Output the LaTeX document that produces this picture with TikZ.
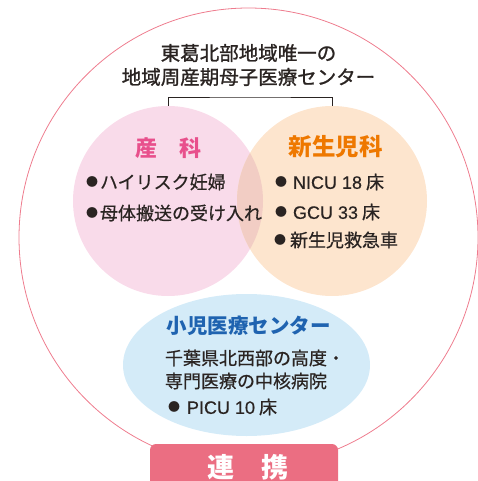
\documentclass[tikz,border=0pt]{standalone}
\usepackage{fontspec}
\newfontfamily\jp{Noto Sans CJK JP}
\newfontfamily\jpt[FakeBold=1.2]{Noto Sans CJK JP}
\newfontfamily\jpb[FakeBold=0.6]{Noto Sans CJK JP}
\newfontfamily\lat[FakeBold=0.5]{Liberation Sans}
\usetikzlibrary{shapes.geometric}
\definecolor{ringc}{HTML}{EE7C8E}
\definecolor{pinkf}{HTML}{F9DBEA}
\definecolor{orgf}{HTML}{FDE5CE}
\definecolor{ovlf}{HTML}{F2CDC4}
\definecolor{bluef}{HTML}{D4EBF8}
\definecolor{renkeif}{HTML}{EB6E82}
\definecolor{sankac}{HTML}{E8508C}
\definecolor{shinc}{HTML}{EE7800}
\definecolor{bluec}{HTML}{1F63B0}
\definecolor{txt}{HTML}{2A2422}
\begin{document}
\begin{tikzpicture}[x=1pt,y=-1pt,
  every node/.style={inner sep=0pt,outer sep=0pt},
  titletext/.style={font=\jpt\fontsize{19.5}{19.5}\selectfont,text=txt},
  headtext/.style={font=\jp\bfseries\fontsize{#1}{#1}\selectfont},
  bodytext/.style={font=\jpb\fontsize{18}{18}\selectfont,text=txt,anchor=west},
  dotmark/.style={font=\jp\fontsize{12}{12}\selectfont,text=txt},
  bubble/.style={circle,minimum size=190pt}]
\useasboundingbox (0,0) rectangle (478,481);
% circles
\node[bubble,fill=pinkf] (sanka) at (168,201) {};
\node[bubble,fill=orgf] (shin) at (332,201) {};
\begin{scope}
  \clip (168,201) circle (95);
  \fill[ovlf] (332,201) circle (95);
\end{scope}
\node[ellipse,fill=bluef,minimum width=247pt,minimum height=142pt] (kids) at (246.5,365) {};
\node[circle,draw=ringc,line width=0.8pt,minimum size=459pt] (ring) at (248.5,237.5) {};
% bracket
\coordinate (brk) at (250,97);
\draw[txt,line width=0.8pt] (sanka.north) |- (brk) -| (shin.north);
% title
\node[titletext] (t1) at (248.5,53) {東葛北部地域唯一の};
\node[titletext] (t2) at (248.5,77) {地域周産期母子医療センター};
% sanka
\node[headtext=22,text=sankac] (sh) at (168.5,148) {産　科};
\node[dotmark] (sd1) at (92,182) {●};
\node[bodytext] (s1) at (100,182) {ハイリスク妊婦};
\node[dotmark] (sd2) at (92,213) {●};
\node[bodytext] (s2) at (100,213) {母体搬送の受け入れ};
% shinseiji
\node[headtext=23.5,text=shinc] (nh) at (335.5,147) {新生児科};
\node[dotmark] (nd1) at (281,182) {●};
\node[bodytext] (n1) at (293,182) {{\lat NICU 18} 床};
\node[dotmark] (nd2) at (281,212) {●};
\node[bodytext] (n2) at (293,212) {{\lat GCU 33} 床};
\node[dotmark] (nd3) at (280,240) {●};
\node[bodytext] (n3) at (290,240) {新生児救急車};
% kids
\node[headtext=20.5,text=bluec] (kh) at (248.5,326) {小児医療センター};
\node[bodytext] (k1) at (165,358) {千葉県北西部の高度・};
\node[bodytext] (k2) at (165,381) {専門医療の中核病院};
\node[dotmark] (kd) at (174,407) {●};
\node[bodytext] (k3) at (187,407) {{\lat PICU 10} 床};
% renkei
\node[rectangle,rounded corners=6pt,fill=renkeif,minimum width=188pt,minimum height=56pt,anchor=north] (rk) at (244,444) {};
\node[headtext=27,text=white] (rkt) at (247.5,467) {連　携};
\end{tikzpicture}
\end{document}
